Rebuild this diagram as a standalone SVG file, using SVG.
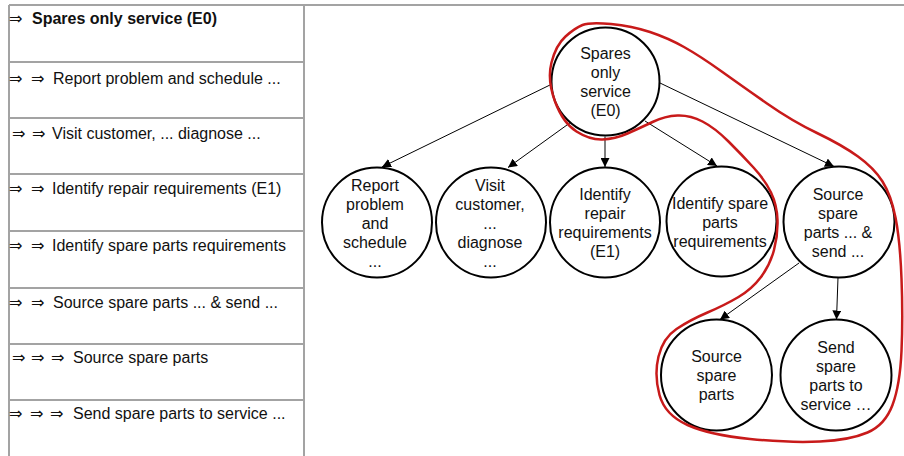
<svg xmlns="http://www.w3.org/2000/svg" width="904" height="456" viewBox="0 0 904 456">
  <style>
    .grid { stroke: #a3a3a3; stroke-width: 2; fill: none; }
    .row { font-family: "Liberation Sans", Arial, sans-serif; font-size: 16px; fill: #111; }
    .row .arr { font-family: "DejaVu Sans", sans-serif; font-size: 16px; font-weight: normal; }
    .bold { font-weight: bold; }
    .node circle { fill: #fff; stroke: #000; stroke-width: 2; }
    .node text { font-family: "Liberation Sans", Arial, sans-serif; font-size: 16px; fill: #111; text-anchor: middle; }
    .edge { stroke: #000; stroke-width: 1; fill: none; marker-end: url(#head); }
    .group { stroke: #c81a1a; stroke-width: 2.5; fill: none; }
  </style>
  <defs>
    <marker id="head" viewBox="0 0 10 10" refX="10" refY="5" markerWidth="9" markerHeight="9" markerUnits="userSpaceOnUse" orient="auto">
      <path d="M0,0 L10,5 L0,10 z" fill="#000"/>
    </marker>
  </defs>
  <rect width="904" height="456" fill="#fff"/>

  <!-- outline table -->
  <g id="table">
    <path class="grid" d="M9,5 H904 M9,5 V456 M304,5 V456 M9,62 H304 M9,118 H304 M9,174 H304 M9,231 H304 M9,288 H304 M9,344 H304 M9,400 H304"/>
    <text class="row bold" y="23.5"><tspan class="arr" x="9">⇒</tspan><tspan x="32">Spares only service (E0)</tspan></text>
    <text class="row" y="83.5"><tspan class="arr" x="9">⇒</tspan><tspan class="arr" x="31">⇒</tspan><tspan x="53">Report problem and schedule ...</tspan></text>
    <text class="row" y="138.5"><tspan class="arr" x="12">⇒</tspan><tspan class="arr" x="32">⇒</tspan><tspan x="52">Visit customer, ... diagnose ...</tspan></text>
    <text class="row" y="193.5"><tspan class="arr" x="9">⇒</tspan><tspan class="arr" x="31">⇒</tspan><tspan x="52">Identify repair requirements (E1)</tspan></text>
    <text class="row" y="250.5"><tspan class="arr" x="9">⇒</tspan><tspan class="arr" x="31">⇒</tspan><tspan x="52">Identify spare parts requirements</tspan></text>
    <text class="row" y="307.5"><tspan class="arr" x="9">⇒</tspan><tspan class="arr" x="31">⇒</tspan><tspan x="53">Source spare parts ... &amp; send ...</tspan></text>
    <text class="row" y="362.5"><tspan class="arr" x="12">⇒</tspan><tspan class="arr" x="31">⇒</tspan><tspan class="arr" x="51">⇒</tspan><tspan x="73">Source spare parts</tspan></text>
    <text class="row" y="418.5"><tspan class="arr" x="9">⇒</tspan><tspan class="arr" x="30">⇒</tspan><tspan class="arr" x="50">⇒</tspan><tspan x="73">Send spare parts to service ...</tspan></text>
  </g>

  <!-- connectors -->
  <g id="connectors">
    <line class="edge" x1="552" y1="84" x2="382" y2="167"/>
    <line class="edge" x1="585" y1="112" x2="508" y2="167.5"/>
    <line class="edge" x1="605" y1="136.5" x2="605" y2="167"/>
    <line class="edge" x1="645" y1="121" x2="717" y2="166"/>
    <line class="edge" x1="660" y1="83" x2="834" y2="166.5"/>
    <line class="edge" x1="799" y1="263" x2="720" y2="319.5"/>
    <line class="edge" x1="838" y1="277.5" x2="836.5" y2="319.5"/>
  </g>

  <!-- nodes -->
  <g id="n-e0" class="node">
    <circle cx="605.5" cy="81.5" r="54"/>
    <text x="605.5" y="59">Spares</text>
    <text x="605.5" y="78">only</text>
    <text x="605.5" y="97">service</text>
    <text x="605.5" y="116">(E0)</text>
  </g>
  <g id="n-report" class="node">
    <circle cx="377" cy="222.5" r="55"/>
    <text x="375" y="191">Report</text>
    <text x="375" y="210">problem</text>
    <text x="375" y="229">and</text>
    <text x="375" y="248">schedule</text>
    <text x="375" y="267">...</text>
  </g>
  <g id="n-visit" class="node">
    <circle cx="491" cy="222.5" r="55"/>
    <text x="490" y="191">Visit</text>
    <text x="490" y="210">customer,</text>
    <text x="490" y="229">...</text>
    <text x="490" y="248">diagnose</text>
    <text x="490" y="267">...</text>
  </g>
  <g id="n-repair" class="node">
    <circle cx="605" cy="222.5" r="55"/>
    <text x="605" y="200">Identify</text>
    <text x="605" y="219">repair</text>
    <text x="605" y="238">requirements</text>
    <text x="605" y="257">(E1)</text>
  </g>
  <g id="n-sparereq" class="node">
    <circle cx="721.5" cy="221.5" r="55"/>
    <text x="720" y="209">Identify spare</text>
    <text x="720" y="228">parts</text>
    <text x="720" y="247">requirements</text>
  </g>
  <g id="n-sourcesend" class="node">
    <circle cx="839" cy="222" r="55.5"/>
    <text x="838" y="200">Source</text>
    <text x="838" y="219">spare</text>
    <text x="838" y="238">parts ... &amp;</text>
    <text x="838" y="257">send ...</text>
  </g>
  <g id="n-sourcespare" class="node">
    <circle cx="716.5" cy="375" r="55.5"/>
    <text x="716.5" y="362">Source</text>
    <text x="716.5" y="381">spare</text>
    <text x="716.5" y="400">parts</text>
  </g>
  <g id="n-send" class="node">
    <circle cx="836" cy="375" r="55.5"/>
    <text x="836" y="353">Send</text>
    <text x="836" y="372">spare</text>
    <text x="836" y="391">parts to</text>
    <text x="836" y="410">service …</text>
  </g>

  <!-- highlighted subtree outline -->
  <path id="selection" class="group" d="M 611 24 Q 632 26 650 32 Q 668 38 684 47 Q 700 56 721 71 Q 742 86 767 103.5 Q 792 121 817 133 Q 842 145 858 156.5 Q 874 168 882.5 181.5 Q 891 195 895.5 217.5 Q 900 240 901.5 278.5 Q 903 317 901.5 351 Q 900 385 892.5 405 Q 885 425 867.5 432.5 Q 850 440 820 441.5 Q 790 443 750 439 Q 710 435 687.5 425 Q 665 415 659.5 395 Q 654 375 658.5 356.5 Q 663 338 676.5 329 Q 690 320 707.5 312.5 Q 725 305 738.5 297 Q 752 289 761 277 Q 770 265 774 250 Q 778 235 777.5 220 Q 777 205 771 192.5 Q 765 180 753.5 167.5 Q 742 155 728.5 141.5 Q 715 128 702.5 121.5 Q 690 115 677.5 115.5 Q 665 116 652.5 122 Q 640 128 627.5 133.5 Q 615 139 602.5 139.5 Q 590 140 576.5 131.5 Q 563 123 555 101.5 Q 547 80 551.5 62.5 Q 556 45 565.5 36.5 Q 575 28 582.5 25 Q 590 22 611 24 Z"/>
</svg>
